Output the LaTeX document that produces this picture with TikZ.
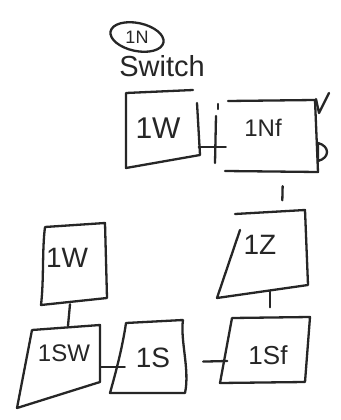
\documentclass[tikz,border=0pt]{standalone}
\usepackage{fontspec}
\setmainfont{Liberation Sans}
\usetikzlibrary{shapes.geometric}
\begin{document}
\begin{tikzpicture}[x=1pt,y=-1pt,
  ink/.style={draw=black!85, line width=2.3pt, line cap=round, line join=round},
  lbl/.style={font=\fontsize{28}{30}\selectfont, text=black!85, inner sep=0pt},
  slot/.style={draw=none, inner sep=0pt}]
\fill[white] (0,0) rectangle (340,420);
\useasboundingbox (0,0) rectangle (340,420);

% header
\node[ellipse, ink, minimum width=54pt, minimum height=28pt, rotate=-12, inner sep=0pt] (n1) at (137,37) {};
\node[lbl, font=\fontsize{18}{20}\selectfont] (n1t) at (137,37) {1N};
\node[lbl, font=\fontsize{29}{31}\selectfont] (sw) at (162,66) {Switch};

% upper 1W
\node[slot, minimum width=73pt, minimum height=73pt] (wa) at (162,128) {};
\node[lbl, font=\fontsize{30}{32}\selectfont] (wat) at (158,128) {1W};
\draw[ink] (193,90) -- (126,93) -- (126,168) -- (200,155) -- (197,103);

% 1Nf
\node[slot, minimum width=90pt, minimum height=72pt] (nf) at (271,136) {};
\node[lbl, font=\fontsize{24}{26}\selectfont] (nft) at (263,128) {1Nf};
\draw[ink] (228,101) -- (315,100) -- (318,172) -- (225,171);
\draw[ink] (316,99) -- (319,113) -- (329,93);
\draw[ink] (318,143) -- (318,161) .. controls (330,158) and (330,146) .. (318,143);

% switch between 1W and 1Nf
\draw[ink] (wa.east |- 0,147) -- (nf.west |- 0,147);
\draw[ink] (216,116) -- (215,163);
\draw[ink] (218,104) -- (218,109);

% lower-left 1W
\node[slot, minimum width=65pt, minimum height=80pt] (wb) at (74,264) {};
\node[lbl] (wbt) at (67,258) {1W};
\draw[ink] (45,227) -- (105,223) -- (107,298) -- (41,305) .. controls (44,280) and (42,250) .. (45,227);

% 1SW
\node[slot, minimum width=70pt, minimum height=60pt] (sww) at (65,356) {};
\node[lbl, font=\fontsize{24}{26}\selectfont] (swt) at (64,353) {1SW};
\draw[ink] (32,330) -- (100,325) -- (100,382) -- (17,408) -- (32,330);

% 1S
\node[slot, minimum width=70pt, minimum height=70pt] (s) at (150,357) {};
\node[lbl] (st) at (153,358) {1S};
\draw[ink] (183,320) -- (126,323) .. controls (122,350) and (115,375) .. (110,393) -- (185,393) .. controls (190,370) and (180,340) .. (183,320);

% 1Sf
\node[slot, minimum width=85pt, minimum height=65pt] (sf) at (267,350) {};
\node[lbl, font=\fontsize{26}{28}\selectfont] (sft) at (268,355) {1Sf};
\draw[ink] (232,318) -- (310,317) -- (305,382) -- (220,383) -- (232,318);

% 1Z
\node[slot, minimum width=88pt, minimum height=75pt] (z) at (262,250) {};
\node[lbl] (zt) at (260,245) {1Z};
\draw[ink] (235,214) -- (305,210) -- (308,285) -- (217,298) -- (240,230);

% connectors
\draw[ink, shorten <=14pt, shorten >=12pt] ([xshift=12pt]nf.south) -- ([xshift=20pt]z.north);
\draw[ink] ([xshift=-4pt]wb.south) -- ([xshift=3pt]sww.north);
\draw[ink] (sww.east |- 0,367) -- ([xshift=10pt]s.west |- 0,367);
\draw[ink, shorten <=18pt] (s.east |- 0,362) -- ([xshift=3pt]sf.west |- 0,361);
\draw[ink, shorten <=4pt, shorten >=10pt] ([xshift=8pt]z.south) -- ([xshift=3pt]sf.north);
\end{tikzpicture}
\end{document}
